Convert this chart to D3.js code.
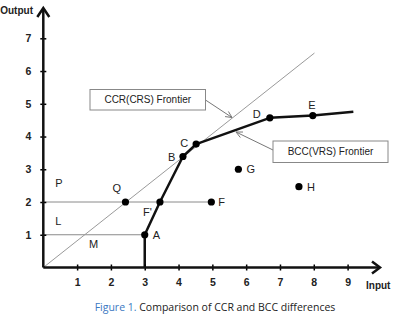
<!DOCTYPE html>
<html>
<head>
<meta charset="utf-8">
<script src="https://cdn.jsdelivr.net/npm/d3@7"></script>
<style>
  body { margin: 0; background: #fff; }
  svg text { font-family: "Liberation Sans", Arial, sans-serif; }
</style>
</head>
<body>
<div id="chart"></div>
<script>
const xTicks = [1, 2, 3, 4, 5, 6, 7, 8, 9];
const yTicks = [1, 2, 3, 4, 5, 6, 7];

// BCC (VRS) frontier, A -> F' -> B -> C -> D -> E -> end
const frontierX = [3, 3.45, 4.13, 4.52, 6.7, 7.97, 9.17];
const frontierY = [1, 2, 3.39, 3.77, 4.57, 4.64, 4.76];

// CCR (CRS) frontier, straight ray from origin
const crsX = [0, 8.02];
const crsY = [0, 6.55];

const pointNames = ["A", "F'", "B", "C", "D", "E", "Q", "F", "G", "H"];
const pointX = [3, 3.45, 4.13, 4.52, 6.7, 7.97, 2.43, 4.97, 5.77, 7.56];
const pointY = [1, 2, 3.39, 3.77, 4.57, 4.64, 2, 2, 3, 2.47];

const regionNames = ["P", "L", "M"];
const regionX = [0.35, 0.35, 1.35];
const regionY = [2.45, 1.3, 0.6];

const width = 395, height = 315;
const svg = d3.select("#chart").append("svg")
      .attr("width", width)
      .attr("height", height);

const x = d3.scaleLinear().domain([0, 9]).range([43.3, 347.6]);
const y = d3.scaleLinear().domain([0, 7]).range([267.5, 38.3]);

const gray = "#8a8a8a";

// thin guide lines
svg.append("line")
      .attr("x1", x(0)).attr("x2", x(3))
      .attr("y1", y(1)).attr("y2", y(1))
      .attr("stroke", gray).attr("stroke-width", 1);
svg.append("line")
      .attr("x1", x(0)).attr("x2", x(4.97))
      .attr("y1", y(2)).attr("y2", y(2))
      .attr("stroke", gray).attr("stroke-width", 1);

svg.append("line")
      .attr("x1", x(crsX[0])).attr("y1", y(crsY[0]))
      .attr("x2", x(crsX[1])).attr("y2", y(crsY[1]))
      .attr("stroke", "#9a9a9a").attr("stroke-width", 1);

// vertical segment below A
svg.append("line")
      .attr("x1", x(3)).attr("x2", x(3))
      .attr("y1", y(0)).attr("y2", y(1))
      .attr("stroke", "#111").attr("stroke-width", 2.5);

const frontier = frontierX.map((d, i) => [d, frontierY[i]]);
svg.append("path")
      .datum(frontier)
      .attr("fill", "none")
      .attr("stroke", "#111")
      .attr("stroke-width", 2.5)
      .attr("stroke-linejoin", "round")
      .attr("d", d3.line().x(d => x(d[0])).y(d => y(d[1])));

// axes
const xAxis = svg.append("g")
      .attr("transform", `translate(0,${y(0)})`)
      .call(d3.axisBottom(x).tickValues(xTicks).tickFormat(d3.format("d")).tickSize(6).tickPadding(5).tickSizeOuter(0));
xAxis.select(".domain").remove();
xAxis.selectAll(".tick line").attr("transform", "translate(0,-3)").attr("stroke-width", 1.5);

const yAxis = svg.append("g")
      .attr("transform", `translate(${x(0)},0)`)
      .call(d3.axisLeft(y).tickValues(yTicks).tickFormat(d3.format("d")).tickSize(6).tickPadding(6).tickSizeOuter(0));
yAxis.select(".domain").remove();
yAxis.selectAll(".tick line").attr("transform", "translate(3,0)").attr("stroke-width", 1.5);

svg.selectAll(".tick text")
      .attr("font-size", 10.5)
      .attr("font-weight", "bold")
      .attr("fill", "#222")
      .style("font-family", "'Liberation Sans', Arial, sans-serif");

svg.append("line")
      .attr("x1", x(0)).attr("x2", 379)
      .attr("y1", y(0)).attr("y2", y(0))
      .attr("stroke", "#111").attr("stroke-width", 2.5);
svg.append("line")
      .attr("x1", x(0)).attr("x2", x(0))
      .attr("y1", y(0)).attr("y2", 9)
      .attr("stroke", "#111").attr("stroke-width", 2.5);

// open arrow heads on axes
svg.append("path")
      .attr("d", `M372,${y(0) - 6} L380,${y(0)} L372,${y(0) + 6}`)
      .attr("fill", "none").attr("stroke", "#111").attr("stroke-width", 2.5);
svg.append("path")
      .attr("d", `M${x(0) - 6},17 L${x(0)},8 L${x(0) + 6},17`)
      .attr("fill", "none").attr("stroke", "#111").attr("stroke-width", 2.5);

svg.append("text")
      .attr("x", 33).attr("y", 14)
      .attr("text-anchor", "end")
      .attr("font-size", 10)
      .attr("font-weight", "bold")
      .attr("fill", "#222")
      .text("Output");
svg.append("text")
      .attr("x", 366).attr("y", 289)
      .attr("font-size", 10)
      .attr("font-weight", "bold")
      .attr("fill", "#222")
      .text("Input");

// points
svg.selectAll("circle.pt")
      .data(pointNames)
      .join("circle")
      .attr("class", "pt")
      .attr("cx", (d, i) => x(pointX[i]))
      .attr("cy", (d, i) => y(pointY[i]))
      .attr("r", 3.6)
      .attr("fill", "#000");

const labelDx = { "A": 8, "F'": -17, "B": -15, "C": -16, "D": -17, "E": -4.5, "Q": -13, "F": 7, "G": 8, "H": 8 };
const labelDy = { "A": 4, "F'": 14, "B": 4, "C": 3, "D": 0, "E": -7, "Q": -10, "F": 4, "G": 4, "H": 4 };
svg.selectAll("text.pt")
      .data(pointNames)
      .join("text")
      .attr("class", "pt")
      .attr("x", (d, i) => x(pointX[i]) + labelDx[d])
      .attr("y", (d, i) => y(pointY[i]) + labelDy[d])
      .attr("font-size", 11)
      .attr("fill", "#222")
      .text(d => d);

svg.selectAll("text.region")
      .data(regionNames)
      .join("text")
      .attr("class", "region")
      .attr("x", (d, i) => x(regionX[i]))
      .attr("y", (d, i) => y(regionY[i]))
      .attr("font-size", 11)
      .attr("fill", "#222")
      .text(d => d);

// callout boxes
function callout(bx, by, bw, bh, label, ax1, ay1, ax2, ay2) {
      svg.append("line")
            .attr("x1", ax1).attr("y1", ay1).attr("x2", ax2).attr("y2", ay2)
            .attr("stroke", "#777").attr("stroke-width", 1);
      const ang = Math.atan2(ay2 - ay1, ax2 - ax1);
      const hl = 7, hw = 0.45;
      svg.append("path")
            .attr("d", `M${ax2 - hl * Math.cos(ang - hw)},${ay2 - hl * Math.sin(ang - hw)} L${ax2},${ay2} L${ax2 - hl * Math.cos(ang + hw)},${ay2 - hl * Math.sin(ang + hw)}`)
            .attr("fill", "none").attr("stroke", "#777").attr("stroke-width", 1);
      svg.append("rect")
            .attr("x", bx).attr("y", by).attr("width", bw).attr("height", bh)
            .attr("fill", "#fff").attr("stroke", "#888").attr("stroke-width", 1);
      svg.append("text")
            .attr("x", bx + bw / 2).attr("y", by + bh / 2 + 3.5)
            .attr("text-anchor", "middle")
            .attr("font-size", 10)
            .attr("fill", "#222")
            .text(label);
}
callout(90, 89.5, 115.5, 20.5, "CCR(CRS) Frontier", 205.5, 100, 232, 117.5);
callout(273, 141, 115, 21.5, "BCC(VRS) Frontier", 273, 150, 236, 132);

// caption
const caption = svg.append("text")
      .attr("x", 215).attr("y", 311)
      .attr("text-anchor", "middle")
      .attr("font-size", 10.5)
      .style("font-family", "'Open Sans', 'Noto Sans', sans-serif");
caption.append("tspan").attr("fill", "#3b78c2").text("Figure 1. ");
caption.append("tspan").attr("fill", "#222").text("Comparison of CCR and BCC differences");
</script>
</body>
</html>
